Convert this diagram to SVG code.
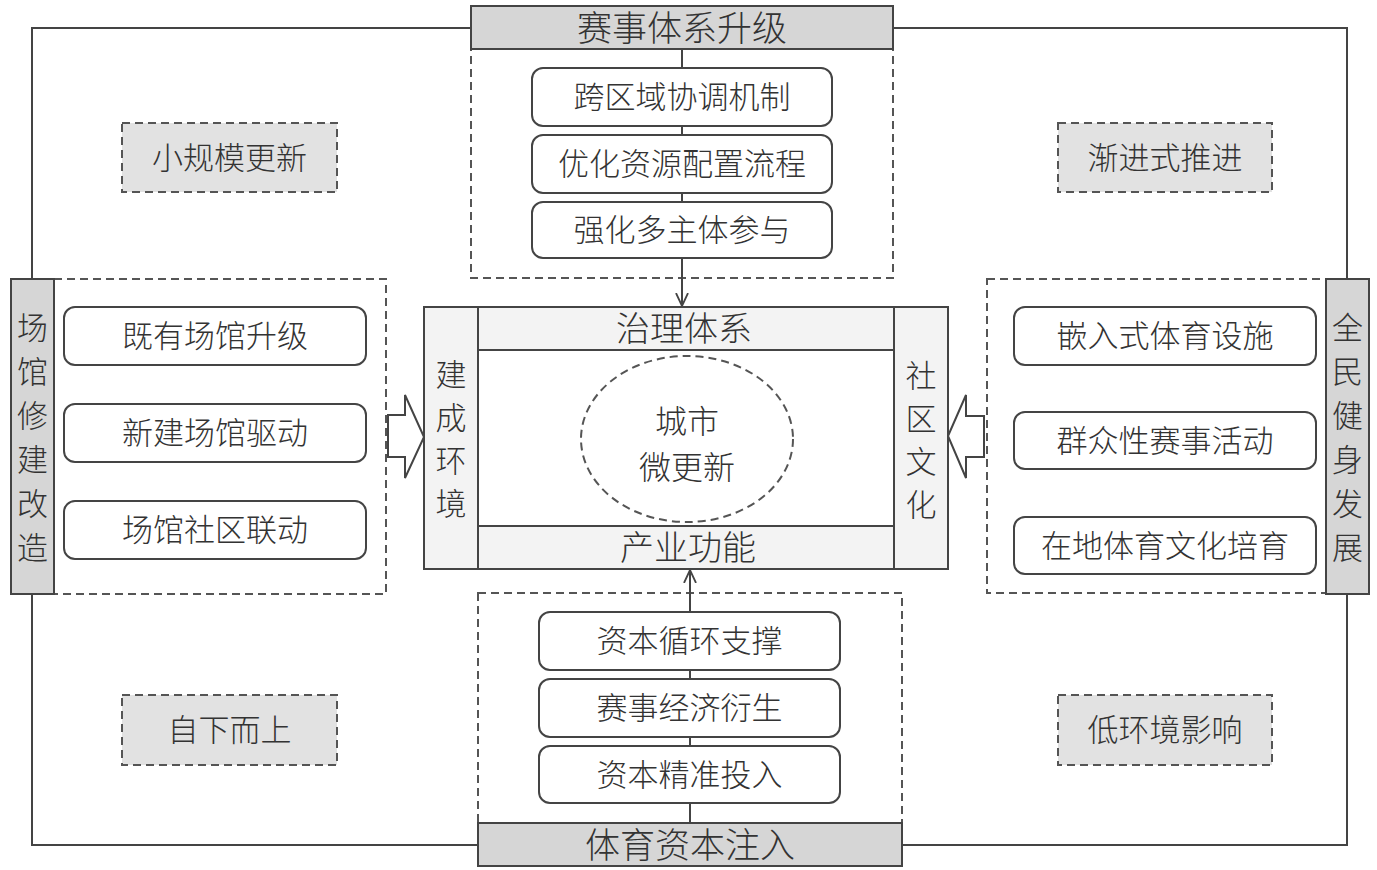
<svg xmlns="http://www.w3.org/2000/svg" width="1377" height="870" viewBox="0 0 1377 870">
<style>
text{font-family:"Noto Sans CJK SC","Noto Sans",sans-serif;font-weight:300;fill:#333;dominant-baseline:central;text-anchor:middle}
.t32{font-size:31px}
.t34{font-size:34px}
.hdr{fill:#d6d6d6;stroke:#444;stroke-width:2}
.dash{fill:#fff;stroke:#555;stroke-width:2;stroke-dasharray:8 5}
.tag{fill:#e2e2e2;stroke:#555;stroke-width:2;stroke-dasharray:8 5}
.rb{fill:#fff;stroke:#444;stroke-width:2}
.band{fill:#f3f3f3;stroke:#444;stroke-width:2}
.ln{fill:none;stroke:#444;stroke-width:2}
.blk{fill:#fff;stroke:#444;stroke-width:2;stroke-linejoin:miter}
</style>
<defs>
<marker id="arr" viewBox="0 0 14 14" refX="13" refY="7" markerWidth="14" markerHeight="14" markerUnits="userSpaceOnUse" orient="auto">
<path d="M0,1 L13,7 L0,13" fill="none" stroke="#444" stroke-width="1.8"/>
</marker>
</defs>
<rect width="1377" height="870" fill="#fff"/>
<g id="frame">
<rect x="32" y="28" width="1315" height="817" class="ln"/>
</g>
<g id="tag-xiaoguimo"><rect x="122" y="123" width="215" height="69" class="tag"/><text x="229.5" y="155" class="t32">小规模更新</text></g>
<g id="tag-jianjin"><rect x="1058" y="123" width="214" height="69" class="tag"/><text x="1165" y="155" class="t32">渐进式推进</text></g>
<g id="tag-zixia"><rect x="122" y="695" width="215" height="70" class="tag"/><text x="229.5" y="727.5" class="t32">自下而上</text></g>
<g id="tag-dihuanjing"><rect x="1058" y="695" width="214" height="70" class="tag"/><text x="1165" y="727.5" class="t32">低环境影响</text></g>
<g id="group-top"><rect x="471" y="49" width="422" height="229" class="dash"/></g>
<g id="group-bottom"><rect x="478" y="593" width="424" height="230" class="dash"/></g>
<g id="group-left"><rect x="54" y="279" width="332" height="315" class="dash"/></g>
<g id="group-right"><rect x="987" y="279" width="339" height="314" class="dash"/></g>
<g id="connectors">
<line x1="682" y1="49" x2="682" y2="306" class="ln" marker-end="url(#arr)"/>
<line x1="690" y1="823" x2="690" y2="570" class="ln" marker-end="url(#arr)"/>
<path d="M388,415 L405,415 L405,395 L424,437 L405,478 L405,457 L388,457 Z" class="blk"/>
<path d="M984,416 L966,416 L966,395 L948,436 L966,478 L966,457 L984,457 Z" class="blk"/>
</g>
<g id="hdr-top"><rect x="471" y="6" width="422" height="43" class="hdr"/><text x="682" y="25" style="font-size:35px">赛事体系升级</text></g>
<g id="hdr-bottom"><rect x="478" y="823" width="424" height="43" class="hdr"/><text x="690" y="842" style="font-size:35px">体育资本注入</text></g>
<g id="hdr-left"><rect x="11" y="279" width="43" height="315" class="hdr"/>
<text x="32.5" class="t32"><tspan x="32.5" y="325">场</tspan><tspan x="32.5" y="369">馆</tspan><tspan x="32.5" y="413">修</tspan><tspan x="32.5" y="457">建</tspan><tspan x="32.5" y="501">改</tspan><tspan x="32.5" y="545">造</tspan></text></g>
<g id="hdr-right"><rect x="1326" y="279" width="43" height="315" class="hdr"/>
<text x="1347.5" class="t32"><tspan x="1347.5" y="325">全</tspan><tspan x="1347.5" y="369">民</tspan><tspan x="1347.5" y="413">健</tspan><tspan x="1347.5" y="457">身</tspan><tspan x="1347.5" y="501">发</tspan><tspan x="1347.5" y="545">展</tspan></text></g>
<g id="t1"><rect x="532" y="68" width="300" height="58" rx="11" class="rb"/><text x="682" y="94.5" class="t32">跨区域协调机制</text></g>
<g id="t2"><rect x="532" y="135" width="300" height="58" rx="11" class="rb"/><text x="682" y="161.5" class="t32">优化资源配置流程</text></g>
<g id="t3"><rect x="532" y="202" width="300" height="56" rx="11" class="rb"/><text x="682" y="227.5" class="t32">强化多主体参与</text></g>
<g id="b1"><rect x="539" y="612" width="301" height="58" rx="11" class="rb"/><text x="689.5" y="638.5" class="t32">资本循环支撑</text></g>
<g id="b2"><rect x="539" y="679" width="301" height="58" rx="11" class="rb"/><text x="689.5" y="705.5" class="t32">赛事经济衍生</text></g>
<g id="b3"><rect x="539" y="746" width="301" height="57" rx="11" class="rb"/><text x="689.5" y="772" class="t32">资本精准投入</text></g>
<g id="l1"><rect x="64" y="307" width="302" height="58" rx="11" class="rb"/><text x="215" y="333.5" class="t32">既有场馆升级</text></g>
<g id="l2"><rect x="64" y="404" width="302" height="58" rx="11" class="rb"/><text x="215" y="430.5" class="t32">新建场馆驱动</text></g>
<g id="l3"><rect x="64" y="501" width="302" height="58" rx="11" class="rb"/><text x="215" y="527.5" class="t32">场馆社区联动</text></g>
<g id="r1"><rect x="1014" y="307" width="302" height="58" rx="11" class="rb"/><text x="1165" y="333.5" class="t32">嵌入式体育设施</text></g>
<g id="r2"><rect x="1014" y="412" width="302" height="57" rx="11" class="rb"/><text x="1165" y="438" class="t32">群众性赛事活动</text></g>
<g id="r3"><rect x="1014" y="517" width="302" height="57" rx="11" class="rb"/><text x="1165" y="543" class="t32">在地体育文化培育</text></g>
<g id="center">
<rect x="424" y="307" width="524" height="262" class="band"/>
<rect x="478" y="350" width="416" height="176" fill="#fff" stroke="#444" stroke-width="2"/>
<line x1="478" y1="307" x2="478" y2="569" class="ln"/>
<line x1="894" y1="307" x2="894" y2="569" class="ln"/>
<text x="684" y="326" class="t34">治理体系</text>
<text x="688" y="545" class="t34">产业功能</text>
<text x="451" class="t32"><tspan x="451" y="372">建</tspan><tspan x="451" y="415">成</tspan><tspan x="451" y="458">环</tspan><tspan x="451" y="501">境</tspan></text>
<text x="921" class="t32"><tspan x="921" y="373">社</tspan><tspan x="921" y="416">区</tspan><tspan x="921" y="459">文</tspan><tspan x="921" y="502">化</tspan></text>
<ellipse cx="687" cy="439" rx="106" ry="83" fill="none" stroke="#555" stroke-width="2" stroke-dasharray="8 5"/>
<text x="687" y="419" style="font-size:32px">城市</text>
<text x="687" y="465" style="font-size:32px">微更新</text>
</g>
</svg>
